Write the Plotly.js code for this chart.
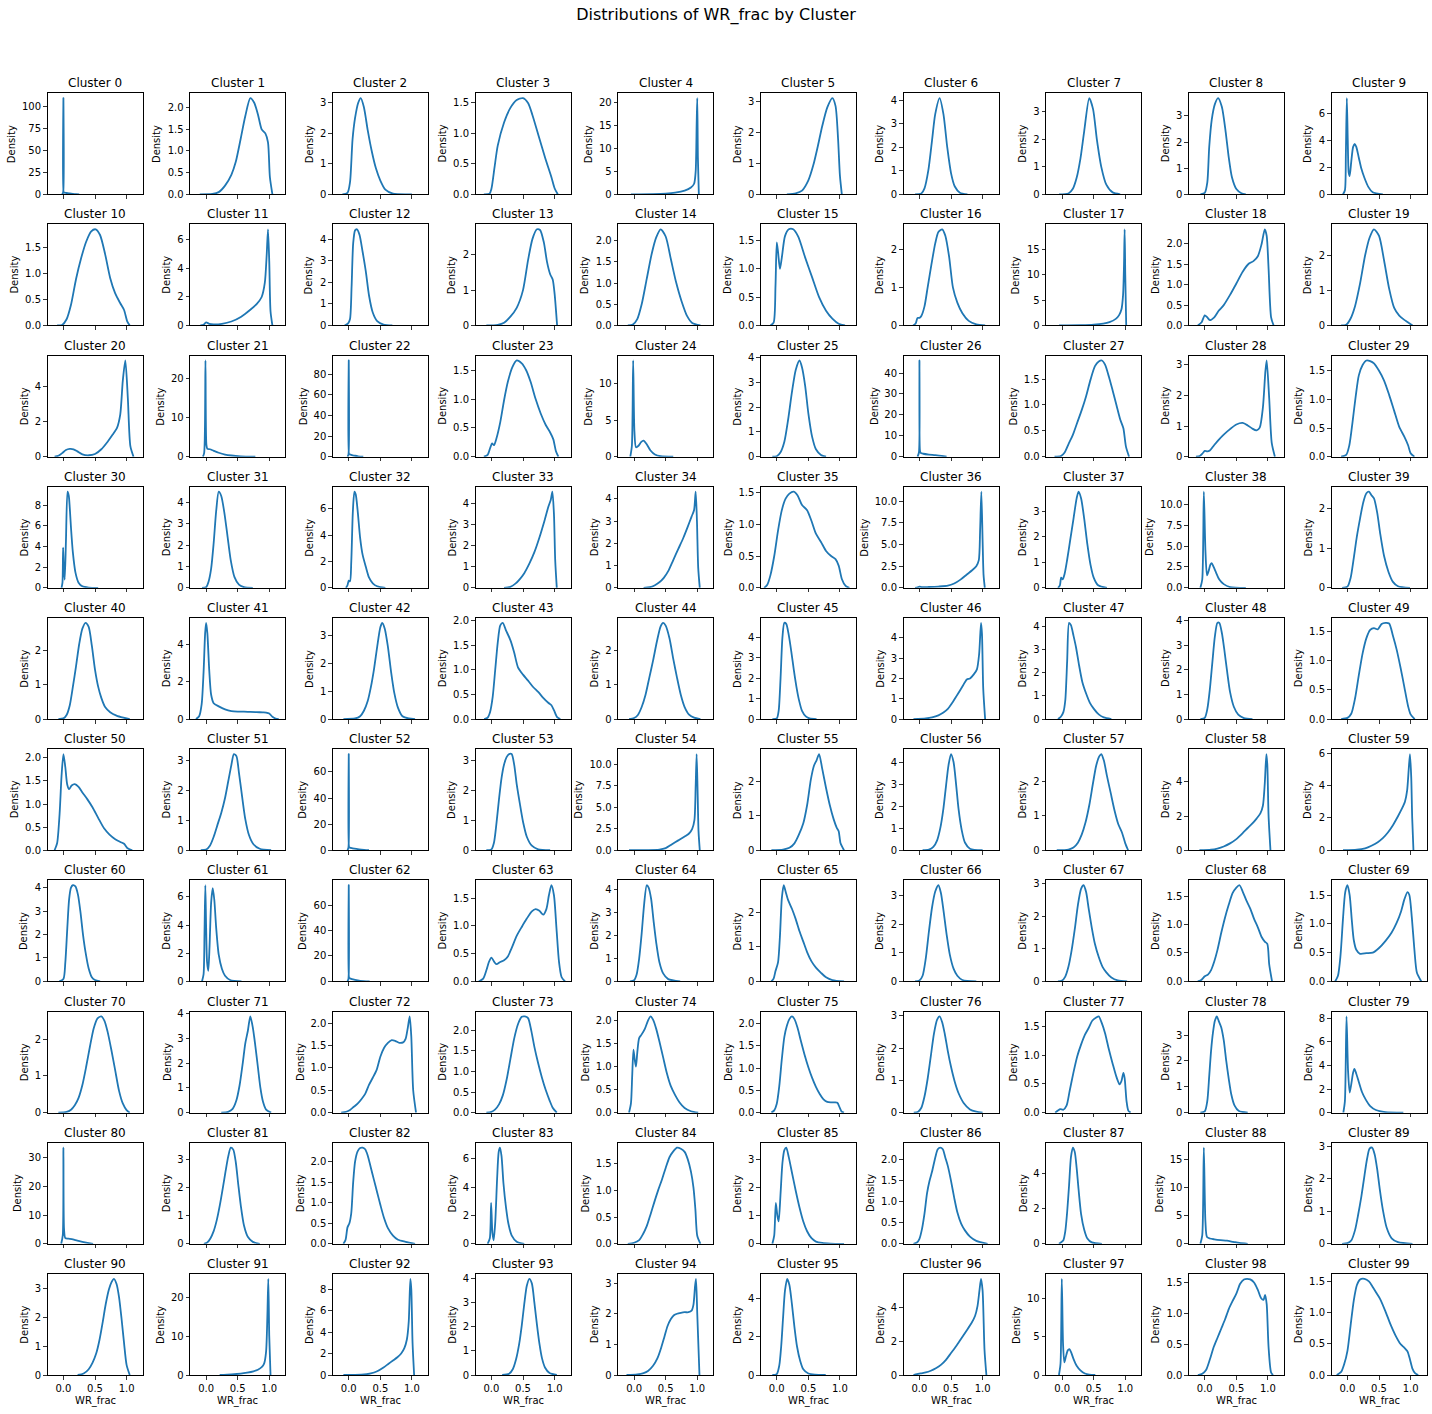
<!DOCTYPE html>
<html><head><meta charset="utf-8">
<script src="https://cdn.plot.ly/plotly-3.0.1.min.js"></script>
<style>html,body{margin:0;padding:0;background:#fff}</style>
</head><body><div id="chart" style="width:1432px;height:1414px"></div>
<script>
// ---------------- data ----------------
const clusterNames = Array.from({length: 100}, (_, i) => 'Cluster ' + i);
const xTickVals = [0, 0.5, 1.0];
const xTickText = ['0.0', '0.5', '1.0'];
const xLabel = 'WR_frac';
const yLabel = 'Density';
const chartTitle = 'Distributions of WR_frac by Cluster';

const kdeX = [
/*0*/[-0.02,-0.005,0,0.005,0.015,0.05,0.1,0.15,0.2,0.25],
/*1*/[-0.1,0.1,0.2,0.3,0.4,0.47,0.55,0.62,0.7,0.76,0.82,0.88,0.94,0.98,1.01,1.05],
/*2*/[-0.1,-0.02,0.02,0.06,0.1,0.15,0.19,0.24,0.3,0.36,0.43,0.5,0.58,0.7,1.0],
/*3*/[-0.12,-0.03,0,0.05,0.1,0.2,0.3,0.4,0.5,0.58,0.65,0.75,0.85,0.95,1.0,1.05],
/*4*/[-0.05,0.3,0.5,0.65,0.8,0.9,0.95,0.975,0.99,1.0,1.01,1.025],
/*5*/[0.16,0.3,0.4,0.5,0.58,0.65,0.72,0.8,0.88,0.93,0.97,1.0,1.03],
/*6*/[-0.07,0.03,0.08,0.14,0.2,0.25,0.32,0.38,0.44,0.5,0.56,0.64,0.76],
/*7*/[-0.05,0.1,0.17,0.23,0.29,0.35,0.43,0.49,0.55,0.62,0.7,0.8,0.92],
/*8*/[-0.07,0,0.04,0.07,0.11,0.16,0.21,0.27,0.33,0.38,0.43,0.5,0.58,0.65],
/*9*/[-0.07,-0.04,-0.025,-0.01,0.005,0.02,0.035,0.06,0.09,0.115,0.14,0.18,0.22,0.27,0.33,0.4,0.56],
/*10*/[-0.1,-0.02,0.05,0.12,0.2,0.28,0.36,0.44,0.51,0.58,0.66,0.74,0.82,0.9,0.96,1.01,1.05],
/*11*/[-0.09,-0.04,0,0.05,0.12,0.25,0.4,0.55,0.7,0.8,0.88,0.93,0.96,0.98,1.0,1.02,1.05],
/*12*/[-0.065,-0.01,0.02,0.045,0.07,0.1,0.13,0.17,0.22,0.27,0.32,0.38,0.45,0.55,0.69],
/*13*/[-0.08,0.1,0.2,0.3,0.4,0.5,0.58,0.65,0.72,0.77,0.83,0.88,0.93,0.97,1.0,1.04],
/*14*/[-0.1,-0.02,0.05,0.12,0.2,0.28,0.35,0.42,0.5,0.58,0.66,0.75,0.84,0.92,1.05],
/*15*/[-0.1,-0.05,-0.02,0,0.02,0.05,0.08,0.13,0.19,0.26,0.34,0.45,0.56,0.67,0.78,0.88,0.98,1.08],
/*16*/[-0.1,-0.06,-0.03,0,0.03,0.08,0.13,0.19,0.25,0.3,0.36,0.41,0.47,0.53,0.6,0.68,0.78,0.9,1.04],
/*17*/[-0.05,0.3,0.5,0.65,0.75,0.85,0.9,0.94,0.965,0.98,0.99,1.0,1.015],
/*18*/[-0.11,-0.05,0,0.04,0.08,0.15,0.22,0.3,0.4,0.5,0.6,0.7,0.77,0.84,0.9,0.95,0.98,1.01,1.05,1.09],
/*19*/[-0.1,-0.02,0.05,0.12,0.2,0.28,0.35,0.42,0.5,0.58,0.66,0.74,0.82,0.9,0.95,1.03],
/*20*/[-0.14,-0.08,-0.02,0.04,0.1,0.16,0.22,0.3,0.4,0.5,0.6,0.7,0.78,0.85,0.9,0.94,0.98,1.02,1.06,1.11],
/*21*/[-0.05,-0.03,-0.01,0.005,0.02,0.06,0.12,0.2,0.3,0.4,0.55,0.78],
/*22*/[-0.02,-0.005,0,0.005,0.015,0.05,0.1,0.15,0.23],
/*23*/[-0.12,-0.06,-0.02,0.01,0.04,0.08,0.14,0.2,0.26,0.33,0.4,0.48,0.55,0.62,0.7,0.78,0.86,0.93,0.98,1.02,1.06],
/*24*/[-0.06,-0.035,-0.015,0.005,0.03,0.07,0.11,0.15,0.2,0.26,0.33,0.42,0.62],
/*25*/[-0.07,0,0.06,0.12,0.18,0.24,0.3,0.36,0.4,0.45,0.5,0.56,0.62,0.7,0.78],
/*26*/[-0.03,-0.008,0,0.008,0.02,0.06,0.15,0.25,0.35,0.43],
/*27*/[-0.12,-0.02,0.04,0.1,0.17,0.24,0.31,0.38,0.45,0.52,0.58,0.63,0.68,0.74,0.8,0.86,0.92,0.97,1.01,1.06],
/*28*/[-0.14,-0.08,-0.03,0,0.04,0.08,0.15,0.22,0.3,0.4,0.5,0.6,0.68,0.75,0.82,0.87,0.92,0.96,0.98,1.02,1.06,1.11],
/*29*/[-0.1,-0.02,0.03,0.08,0.13,0.18,0.24,0.3,0.36,0.42,0.5,0.58,0.66,0.74,0.82,0.9,0.96,1.0,1.06],
/*30*/[-0.03,-0.015,-0.005,0.005,0.02,0.04,0.065,0.085,0.1,0.12,0.15,0.19,0.24,0.3,0.4,0.55],
/*31*/[-0.065,0,0.04,0.08,0.12,0.16,0.2,0.24,0.29,0.34,0.39,0.45,0.52,0.6,0.74],
/*32*/[-0.045,-0.02,0,0.02,0.04,0.065,0.09,0.11,0.14,0.18,0.22,0.27,0.32,0.38,0.45,0.58],
/*33*/[0.2,0.3,0.38,0.45,0.52,0.6,0.68,0.76,0.84,0.9,0.94,0.965,0.99,1.01,1.035],
/*34*/[0.15,0.25,0.33,0.4,0.47,0.54,0.62,0.7,0.78,0.85,0.91,0.95,0.975,0.995,1.015,1.04],
/*35*/[-0.2,-0.15,-0.1,-0.04,0.02,0.08,0.14,0.2,0.27,0.33,0.4,0.48,0.55,0.62,0.7,0.78,0.86,0.93,0.98,1.03,1.09,1.15],
/*36*/[-0.07,-0.03,0,0.04,0.15,0.3,0.45,0.55,0.65,0.75,0.83,0.9,0.94,0.96,0.98,1.0,1.015,1.035],
/*37*/[-0.065,-0.035,-0.015,0.01,0.04,0.08,0.13,0.18,0.23,0.26,0.3,0.35,0.4,0.45,0.5,0.57,0.71],
/*38*/[-0.07,-0.04,-0.015,0.01,0.035,0.06,0.09,0.11,0.14,0.18,0.23,0.3,0.4,0.65],
/*39*/[-0.085,0,0.05,0.1,0.15,0.2,0.25,0.3,0.34,0.38,0.42,0.47,0.52,0.58,0.65,0.72,0.8,0.99],
/*40*/[-0.08,0,0.05,0.1,0.15,0.2,0.25,0.3,0.35,0.4,0.45,0.5,0.55,0.6,0.66,0.74,0.84,0.95,1.05],
/*41*/[-0.16,-0.11,-0.07,-0.04,-0.015,0,0.02,0.05,0.08,0.12,0.2,0.3,0.4,0.5,0.6,0.7,0.8,0.9,0.95,1.0,1.05,1.1,1.15],
/*42*/[-0.085,0.1,0.18,0.24,0.3,0.35,0.4,0.45,0.5,0.53,0.57,0.62,0.67,0.72,0.78,0.85,0.95,1.05],
/*43*/[-0.115,-0.06,-0.02,0.02,0.06,0.1,0.14,0.18,0.23,0.3,0.36,0.42,0.5,0.58,0.66,0.74,0.82,0.9,0.95,0.99,1.04,1.09],
/*44*/[-0.08,0,0.06,0.12,0.18,0.24,0.3,0.36,0.42,0.46,0.5,0.56,0.62,0.68,0.74,0.8,0.87,0.95,1.05],
/*45*/[-0.07,0,0.03,0.06,0.09,0.12,0.15,0.19,0.23,0.27,0.31,0.35,0.4,0.46,0.52,0.63],
/*46*/[-0.095,0.1,0.2,0.3,0.38,0.45,0.52,0.6,0.68,0.75,0.8,0.86,0.91,0.945,0.975,0.99,1.01,1.04],
/*47*/[-0.065,-0.02,0.02,0.05,0.08,0.11,0.14,0.18,0.22,0.27,0.32,0.38,0.44,0.5,0.58,0.66,0.78],
/*48*/[-0.07,0,0.04,0.08,0.12,0.16,0.2,0.23,0.27,0.31,0.35,0.4,0.46,0.53,0.62,0.755],
/*49*/[-0.1,0,0.06,0.12,0.18,0.24,0.3,0.36,0.42,0.48,0.54,0.6,0.66,0.72,0.78,0.84,0.9,0.96,1.0,1.065],
/*50*/[-0.14,-0.1,-0.06,-0.03,0,0.03,0.06,0.09,0.13,0.18,0.24,0.3,0.38,0.46,0.55,0.64,0.73,0.82,0.9,0.96,1.01,1.09],
/*51*/[-0.085,0,0.06,0.12,0.18,0.24,0.3,0.35,0.4,0.44,0.48,0.52,0.57,0.62,0.68,0.75,0.85,1.03],
/*52*/[-0.02,-0.005,0,0.005,0.015,0.06,0.12,0.2,0.32],
/*53*/[-0.08,0,0.04,0.08,0.12,0.16,0.2,0.24,0.28,0.32,0.36,0.4,0.45,0.5,0.56,0.64,0.74,0.93],
/*54*/[-0.08,0.2,0.4,0.5,0.6,0.7,0.8,0.87,0.92,0.955,0.975,0.99,1.005,1.02,1.04],
/*55*/[-0.085,0.1,0.2,0.28,0.35,0.42,0.48,0.54,0.59,0.63,0.67,0.72,0.78,0.84,0.9,0.95,0.98,1.01,1.065],
/*56*/[0.05,0.15,0.22,0.28,0.33,0.38,0.42,0.46,0.5,0.54,0.58,0.62,0.67,0.72,0.8,1.0],
/*57*/[-0.085,0.1,0.18,0.25,0.31,0.37,0.43,0.49,0.54,0.59,0.62,0.66,0.71,0.77,0.83,0.89,0.95,1.0,1.045],
/*58*/[-0.085,0.1,0.2,0.3,0.4,0.5,0.6,0.68,0.75,0.82,0.88,0.92,0.95,0.975,0.99,1.01,1.04],
/*59*/[-0.07,0.15,0.28,0.38,0.48,0.56,0.64,0.72,0.8,0.86,0.91,0.945,0.97,0.99,1.01,1.025,1.045],
/*60*/[-0.065,0,0.03,0.06,0.09,0.12,0.15,0.19,0.23,0.27,0.31,0.35,0.4,0.45,0.5,0.58],
/*61*/[-0.065,-0.04,-0.025,-0.012,0,0.015,0.035,0.055,0.08,0.105,0.13,0.16,0.2,0.25,0.3,0.38,0.56],
/*62*/[-0.02,-0.005,0,0.005,0.015,0.05,0.1,0.18,0.33],
/*63*/[-0.2,-0.13,-0.08,-0.04,0,0.04,0.08,0.14,0.2,0.26,0.32,0.4,0.48,0.56,0.64,0.7,0.76,0.82,0.87,0.91,0.95,0.99,1.03,1.07,1.11,1.165],
/*64*/[-0.065,0,0.04,0.08,0.12,0.16,0.2,0.23,0.27,0.31,0.35,0.4,0.46,0.54,0.73],
/*65*/[-0.085,-0.05,-0.02,0.02,0.05,0.08,0.11,0.14,0.18,0.24,0.3,0.36,0.42,0.48,0.55,0.62,0.7,0.78,0.88,1.065],
/*66*/[-0.07,0,0.05,0.1,0.15,0.2,0.25,0.3,0.34,0.38,0.43,0.48,0.54,0.6,0.68,0.9],
/*67*/[-0.065,0,0.05,0.1,0.15,0.2,0.25,0.3,0.34,0.38,0.42,0.47,0.52,0.58,0.64,0.7,0.78,0.88,1.03],
/*68*/[-0.11,-0.05,0,0.05,0.1,0.15,0.2,0.26,0.32,0.38,0.44,0.5,0.55,0.6,0.66,0.72,0.78,0.84,0.9,0.95,0.99,1.02,1.065],
/*69*/[-0.195,-0.15,-0.11,-0.07,-0.035,0,0.035,0.07,0.1,0.14,0.2,0.3,0.4,0.5,0.6,0.7,0.78,0.85,0.9,0.95,0.98,1.02,1.06,1.1,1.17],
/*70*/[-0.08,0.05,0.12,0.18,0.24,0.3,0.36,0.42,0.48,0.54,0.6,0.65,0.7,0.76,0.82,0.88,0.94,1.0,1.05],
/*71*/[0.24,0.35,0.42,0.48,0.53,0.58,0.62,0.66,0.7,0.74,0.78,0.82,0.86,0.9,0.95,1.03],
/*72*/[-0.12,-0.04,0.02,0.08,0.14,0.2,0.26,0.32,0.38,0.44,0.5,0.56,0.62,0.68,0.74,0.8,0.86,0.9,0.935,0.965,0.99,1.02,1.065],
/*73*/[-0.08,0,0.06,0.12,0.18,0.24,0.3,0.36,0.42,0.48,0.53,0.58,0.63,0.68,0.74,0.8,0.86,0.92,0.97,1.035],
/*74*/[-0.08,-0.05,-0.03,-0.01,0.01,0.03,0.05,0.08,0.12,0.17,0.22,0.26,0.3,0.35,0.4,0.46,0.52,0.58,0.65,0.72,0.8,0.9,1.015],
/*75*/[-0.085,-0.04,0,0.04,0.08,0.12,0.16,0.2,0.24,0.28,0.33,0.38,0.44,0.5,0.56,0.62,0.68,0.74,0.8,0.86,0.92,0.96,1.0,1.03,1.065],
/*76*/[-0.09,-0.02,0.03,0.08,0.13,0.18,0.23,0.28,0.32,0.36,0.4,0.45,0.5,0.56,0.62,0.7,0.8,0.9,1.0],
/*77*/[-0.11,-0.06,-0.03,0.02,0.07,0.12,0.18,0.24,0.3,0.36,0.42,0.48,0.54,0.58,0.63,0.68,0.74,0.8,0.86,0.91,0.94,0.97,0.99,1.02,1.05,1.085],
/*78*/[-0.07,0,0.04,0.07,0.1,0.13,0.16,0.19,0.22,0.26,0.3,0.34,0.38,0.42,0.47,0.54,0.68],
/*79*/[-0.065,-0.04,-0.015,0.01,0.035,0.06,0.09,0.11,0.14,0.18,0.23,0.29,0.36,0.45,0.6,0.885],
/*80*/[-0.035,-0.01,0,0.01,0.03,0.08,0.15,0.22,0.3,0.38,0.47],
/*81*/[-0.035,0.02,0.07,0.12,0.17,0.22,0.27,0.31,0.35,0.39,0.43,0.47,0.51,0.55,0.6,0.66,0.74,0.85],
/*82*/[-0.085,-0.05,-0.02,0.01,0.04,0.07,0.1,0.14,0.18,0.22,0.26,0.3,0.35,0.4,0.45,0.5,0.56,0.62,0.7,0.78,0.9,1.05],
/*83*/[-0.06,-0.025,-0.005,0.015,0.035,0.06,0.09,0.115,0.135,0.16,0.19,0.23,0.27,0.32,0.4,0.52],
/*84*/[-0.1,0,0.08,0.14,0.2,0.26,0.32,0.38,0.44,0.5,0.56,0.62,0.68,0.74,0.8,0.85,0.9,0.94,0.97,1.0,1.05],
/*85*/[-0.07,-0.04,-0.015,0.01,0.03,0.06,0.09,0.12,0.15,0.19,0.24,0.3,0.36,0.42,0.48,0.55,0.62,0.72,0.85,1.065],
/*86*/[-0.095,-0.04,0,0.04,0.08,0.12,0.16,0.2,0.25,0.29,0.33,0.37,0.41,0.45,0.5,0.55,0.6,0.66,0.72,0.8,0.9,1.08],
/*87*/[-0.05,-0.01,0.02,0.05,0.08,0.11,0.14,0.17,0.2,0.23,0.26,0.3,0.35,0.4,0.47,0.63],
/*88*/[-0.07,-0.04,-0.015,0.01,0.035,0.08,0.15,0.25,0.35,0.45,0.55,0.68],
/*89*/[-0.085,0,0.06,0.12,0.17,0.22,0.27,0.31,0.35,0.39,0.43,0.47,0.51,0.56,0.62,0.7,0.8,1.03],
/*90*/[0.225,0.32,0.4,0.46,0.52,0.57,0.62,0.67,0.72,0.76,0.8,0.84,0.88,0.92,0.96,1.0,1.05],
/*91*/[0.215,0.4,0.55,0.65,0.75,0.82,0.88,0.92,0.95,0.97,0.985,1.0,1.02],
/*92*/[-0.085,0.2,0.35,0.45,0.55,0.63,0.7,0.77,0.83,0.88,0.92,0.95,0.975,0.99,1.01,1.035],
/*93*/[0.17,0.28,0.34,0.39,0.44,0.48,0.52,0.56,0.6,0.64,0.68,0.72,0.76,0.8,0.85,0.92,1.035],
/*94*/[-0.12,0.05,0.15,0.22,0.3,0.37,0.43,0.48,0.53,0.58,0.63,0.68,0.74,0.8,0.86,0.91,0.94,0.965,0.98,1.0,1.035],
/*95*/[-0.07,0,0.04,0.07,0.1,0.13,0.165,0.2,0.24,0.28,0.32,0.37,0.42,0.5,0.6,0.775],
/*96*/[-0.095,-0.04,0.02,0.1,0.18,0.26,0.34,0.42,0.5,0.58,0.66,0.74,0.82,0.88,0.92,0.95,0.975,1.0,1.03,1.06],
/*97*/[-0.05,-0.025,-0.005,0.015,0.035,0.06,0.09,0.115,0.14,0.18,0.23,0.29,0.36,0.43,0.525],
/*98*/[-0.11,-0.04,0.02,0.08,0.14,0.2,0.26,0.32,0.38,0.44,0.5,0.56,0.62,0.67,0.72,0.78,0.84,0.89,0.93,0.955,0.98,1.01,1.05,1.08],
/*99*/[-0.17,-0.1,-0.05,0,0.05,0.1,0.15,0.2,0.27,0.34,0.4,0.46,0.52,0.6,0.68,0.76,0.84,0.9,0.95,0.99,1.03,1.07,1.12]
];

const kdeY = [
/*0*/[0,2,110,2.2,1.8,1.5,1.0,0.6,0.25,0],
/*1*/[0,0.01,0.05,0.2,0.45,0.75,1.3,1.8,2.22,2.12,1.85,1.5,1.4,1.2,0.4,0],
/*2*/[0,0.05,0.4,1.8,2.5,3.0,3.15,2.85,2.1,1.45,0.85,0.45,0.15,0.02,0],
/*3*/[0,0.01,0.09,0.45,0.8,1.18,1.42,1.55,1.58,1.5,1.3,0.95,0.6,0.28,0.1,0],
/*4*/[0,0.05,0.15,0.35,0.8,1.5,2.3,5,15,21,8,0],
/*5*/[0,0.03,0.12,0.45,0.95,1.55,2.2,2.8,3.1,2.85,1.8,0.6,0],
/*6*/[0,0.03,0.25,1.0,2.3,3.4,4.08,3.4,2.0,0.9,0.33,0.07,0],
/*7*/[0,0.03,0.2,0.6,1.3,2.3,3.5,3.1,2.0,1.0,0.35,0.07,0],
/*8*/[0,0.05,0.45,1.8,2.85,3.45,3.68,3.35,2.4,1.4,0.65,0.2,0.04,0],
/*9*/[0,0.3,3.0,7.1,4.0,1.6,1.35,2.4,3.5,3.72,3.5,2.7,1.9,1.2,0.55,0.15,0],
/*10*/[0,0.01,0.12,0.4,0.9,1.3,1.62,1.82,1.86,1.75,1.38,0.92,0.62,0.43,0.3,0.08,0],
/*11*/[0,0.05,0.22,0.12,0.08,0.12,0.28,0.6,1.1,1.5,2.0,3.0,5.0,6.75,4.5,1.0,0],
/*12*/[0,0.1,0.3,1.8,3.8,4.4,4.45,4.2,3.4,2.5,1.4,0.6,0.2,0.04,0],
/*13*/[0,0.02,0.08,0.25,0.5,1.0,1.85,2.45,2.72,2.7,2.35,1.8,1.45,1.3,0.9,0],
/*14*/[0,0.02,0.15,0.5,1.1,1.7,2.08,2.27,2.1,1.58,1.05,0.58,0.22,0.06,0],
/*15*/[0,0.05,0.7,1.47,1.3,1.0,1.2,1.58,1.7,1.7,1.57,1.2,0.85,0.5,0.26,0.12,0.03,0],
/*16*/[0,0.05,0.2,0.2,0.25,0.5,1.0,1.6,2.15,2.45,2.52,2.35,1.8,1.0,0.6,0.32,0.12,0.03,0],
/*17*/[0,0.05,0.15,0.35,0.65,1.3,2.0,3.2,6,12,19.0,10,0],
/*18*/[0,0.08,0.25,0.2,0.13,0.2,0.36,0.5,0.75,1.03,1.32,1.52,1.58,1.7,2.0,2.36,2.2,1.4,0.2,0],
/*19*/[0,0.02,0.2,0.55,1.2,2.0,2.5,2.74,2.55,1.85,1.05,0.5,0.28,0.16,0.1,0],
/*20*/[0,0.05,0.2,0.38,0.44,0.42,0.3,0.13,0.08,0.15,0.42,0.85,1.25,1.65,2.4,4.3,5.45,3.3,0.6,0],
/*21*/[0,1,24.6,3,2,1.9,1.5,1.0,0.55,0.3,0.1,0],
/*22*/[0,2,93.5,2.5,2.2,1.6,0.9,0.4,0],
/*23*/[0,0.03,0.15,0.23,0.2,0.32,0.6,0.98,1.3,1.55,1.67,1.62,1.5,1.3,1.0,0.75,0.55,0.42,0.3,0.1,0],
/*24*/[0,1.5,13.2,3.5,1.3,1.5,2.0,2.2,1.7,0.85,0.3,0.06,0],
/*25*/[0,0.02,0.18,0.6,1.5,2.6,3.5,3.88,3.6,2.85,1.75,0.8,0.3,0.07,0],
/*26*/[0,2,46,3,1.8,1.4,1.0,0.75,0.4,0],
/*27*/[0,0.01,0.08,0.24,0.42,0.66,0.9,1.17,1.49,1.75,1.84,1.86,1.78,1.55,1.28,1.0,0.72,0.55,0.2,0],
/*28*/[0,0.02,0.12,0.19,0.17,0.2,0.38,0.55,0.72,0.9,1.05,1.1,1.02,0.92,0.86,0.95,1.6,2.8,3.14,1.9,0.45,0],
/*29*/[0,0.03,0.2,0.6,1.05,1.42,1.6,1.68,1.67,1.63,1.5,1.33,1.08,0.8,0.52,0.35,0.2,0.06,0],
/*30*/[0,0.5,3.9,2.0,0.8,4.5,9.3,8.9,7.8,5.8,3.4,1.5,0.5,0.15,0.03,0],
/*31*/[0,0.03,0.3,0.9,2.1,3.6,4.5,4.3,3.5,2.4,1.3,0.5,0.15,0.03,0],
/*32*/[0,0.2,0.55,0.5,2.0,5.8,7.3,7.1,5.9,3.8,2.5,1.6,0.8,0.35,0.12,0],
/*33*/[0,0.05,0.2,0.42,0.7,1.15,1.7,2.4,3.2,3.85,4.2,4.58,3.5,1.3,0],
/*34*/[0,0.03,0.12,0.25,0.45,0.75,1.25,1.75,2.25,2.75,3.2,3.5,4.32,3.0,0.9,0],
/*35*/[0,0.05,0.2,0.5,0.9,1.22,1.4,1.48,1.51,1.45,1.3,1.22,1.05,0.85,0.72,0.58,0.5,0.45,0.35,0.14,0.03,0],
/*36*/[0,0.05,0.15,0.08,0.1,0.15,0.25,0.5,0.95,1.55,2.0,2.5,3.2,6.5,11.1,5.5,1.5,0],
/*37*/[0,0.1,0.4,0.33,0.55,1.1,1.9,2.7,3.5,3.76,3.5,2.7,1.7,0.9,0.4,0.1,0],
/*38*/[0,1.0,11.5,4.5,1.5,2.0,2.8,2.95,2.5,1.8,1.0,0.45,0.1,0],
/*39*/[0,0.03,0.25,0.75,1.3,1.75,2.15,2.38,2.42,2.33,2.25,1.9,1.35,0.8,0.4,0.15,0.04,0],
/*40*/[0,0.02,0.12,0.4,0.95,1.55,2.2,2.65,2.82,2.7,2.15,1.45,0.95,0.62,0.35,0.2,0.1,0.04,0],
/*41*/[0,0.15,0.8,2.5,4.6,5.15,4.6,2.6,1.3,0.85,0.68,0.52,0.43,0.4,0.4,0.38,0.37,0.36,0.35,0.3,0.12,0.03,0],
/*42*/[0,0.02,0.1,0.3,0.65,1.15,1.8,2.6,3.3,3.46,3.25,2.6,1.7,0.95,0.4,0.1,0.02,0],
/*43*/[0,0.03,0.15,0.45,1.0,1.55,1.9,1.95,1.8,1.6,1.35,1.05,0.9,0.78,0.65,0.55,0.43,0.33,0.28,0.18,0.04,0],
/*44*/[0,0.03,0.12,0.35,0.7,1.2,1.7,2.25,2.7,2.8,2.72,2.35,1.75,1.2,0.7,0.35,0.13,0.04,0],
/*45*/[0,0.03,0.4,2.0,4.0,4.7,4.65,4.1,3.3,2.4,1.6,0.95,0.4,0.13,0.03,0],
/*46*/[0,0.03,0.08,0.18,0.32,0.5,0.8,1.2,1.6,1.95,2.0,2.2,2.45,3.2,4.74,4.2,1.5,0],
/*47*/[0,0.1,0.3,0.8,2.5,4.15,4.05,3.6,3.1,2.3,1.6,1.1,0.7,0.45,0.2,0.07,0],
/*48*/[0,0.05,0.4,1.2,2.3,3.35,3.9,3.9,3.5,2.8,2.0,1.1,0.5,0.18,0.04,0],
/*49*/[0,0.02,0.09,0.35,0.75,1.12,1.38,1.52,1.55,1.53,1.62,1.64,1.63,1.42,1.18,0.88,0.55,0.22,0.08,0],
/*50*/[0,0.15,0.8,1.6,2.08,1.8,1.42,1.32,1.4,1.43,1.37,1.25,1.1,0.93,0.7,0.48,0.34,0.24,0.18,0.14,0.05,0],
/*51*/[0,0.02,0.15,0.45,0.85,1.25,1.75,2.3,2.85,3.22,3.15,2.6,1.8,1.05,0.5,0.2,0.05,0],
/*52*/[0,2,73.7,2.5,2.0,1.5,1.0,0.5,0],
/*53*/[0,0.03,0.25,0.9,1.7,2.4,2.85,3.1,3.2,3.2,2.85,2.2,1.55,0.95,0.45,0.15,0.03,0],
/*54*/[0,0.02,0.08,0.25,0.7,1.15,1.6,1.95,2.5,3.5,7.5,11.2,7,2.2,0],
/*55*/[0,0.02,0.07,0.2,0.45,0.78,1.3,2.05,2.45,2.6,2.78,2.35,1.8,1.3,0.9,0.65,0.55,0.2,0],
/*56*/[0,0.03,0.15,0.45,1.0,1.9,2.9,3.85,4.36,4.0,3.0,1.85,0.9,0.35,0.07,0],
/*57*/[0,0.02,0.08,0.22,0.45,0.8,1.3,1.95,2.45,2.72,2.78,2.6,2.15,1.65,1.15,0.75,0.5,0.2,0],
/*58*/[0,0.03,0.1,0.22,0.4,0.65,1.0,1.3,1.55,1.85,2.15,2.6,3.9,5.62,5.0,2.0,0],
/*59*/[0,0.03,0.12,0.28,0.5,0.75,1.1,1.55,2.1,2.55,3.0,3.7,5.0,5.94,4.5,2.0,0],
/*60*/[0,0.1,0.8,2.2,3.5,4.0,4.1,4.05,3.7,2.95,2.0,1.25,0.55,0.18,0.06,0],
/*61*/[0,0.5,3.5,6.83,4.0,1.4,0.75,2.5,5.6,6.62,5.8,3.8,1.9,0.9,0.4,0.1,0],
/*62*/[0,2,75.5,3.0,2.5,1.8,1.2,0.5,0],
/*63*/[0,0.05,0.2,0.35,0.43,0.36,0.31,0.35,0.38,0.45,0.6,0.82,0.98,1.13,1.26,1.3,1.27,1.2,1.3,1.55,1.73,1.55,0.95,0.35,0.08,0],
/*64*/[0,0.05,0.3,1.0,2.1,3.4,4.2,4.1,3.6,2.6,1.7,0.85,0.35,0.1,0],
/*65*/[0,0.08,0.3,0.55,1.3,2.4,2.78,2.6,2.35,2.1,1.8,1.45,1.15,0.85,0.58,0.4,0.25,0.12,0.04,0],
/*66*/[0,0.03,0.2,0.8,1.75,2.6,3.15,3.37,3.1,2.5,1.65,0.95,0.45,0.2,0.05,0],
/*67*/[0,0.03,0.15,0.45,0.95,1.6,2.35,2.85,2.96,2.75,2.25,1.65,1.15,0.75,0.45,0.28,0.12,0.03,0],
/*68*/[0,0.03,0.09,0.12,0.2,0.35,0.55,0.85,1.12,1.35,1.55,1.65,1.69,1.58,1.42,1.28,1.1,0.95,0.78,0.7,0.66,0.3,0],
/*69*/[0,0.1,0.45,1.1,1.55,1.67,1.5,1.05,0.72,0.55,0.48,0.49,0.5,0.58,0.7,0.85,1.02,1.22,1.42,1.55,1.5,1.1,0.55,0.15,0],
/*70*/[0,0.02,0.08,0.2,0.4,0.75,1.25,1.8,2.3,2.57,2.62,2.5,2.2,1.7,1.15,0.6,0.25,0.07,0],
/*71*/[0,0.03,0.15,0.5,1.1,2.0,2.8,3.3,3.9,3.45,2.7,1.85,1.0,0.45,0.12,0],
/*72*/[0,0.02,0.06,0.13,0.2,0.3,0.42,0.62,0.78,0.95,1.25,1.45,1.56,1.62,1.6,1.56,1.57,1.65,1.9,2.15,1.7,0.5,0],
/*73*/[0,0.02,0.08,0.2,0.42,0.8,1.3,1.8,2.15,2.33,2.34,2.3,2.0,1.6,1.2,0.85,0.55,0.3,0.12,0],
/*74*/[0,0.2,0.8,1.37,1.15,1.0,1.3,1.62,1.7,1.82,2.0,2.09,2.02,1.82,1.55,1.2,0.85,0.58,0.38,0.22,0.1,0.03,0],
/*75*/[0,0.05,0.2,0.6,1.2,1.7,1.95,2.1,2.16,2.1,1.9,1.62,1.3,1.02,0.78,0.58,0.42,0.3,0.24,0.23,0.23,0.22,0.1,0.02,0],
/*76*/[0,0.03,0.15,0.5,1.05,1.75,2.45,2.88,2.98,2.8,2.45,1.9,1.42,0.95,0.6,0.3,0.1,0.03,0],
/*77*/[0,0.04,0.06,0.05,0.12,0.38,0.7,0.98,1.18,1.35,1.47,1.6,1.65,1.67,1.55,1.38,1.1,0.85,0.62,0.49,0.55,0.69,0.6,0.2,0.03,0],
/*78*/[0,0.05,0.45,1.4,2.4,3.1,3.55,3.72,3.55,3.3,2.8,2.0,1.3,0.7,0.28,0.06,0],
/*79*/[0,1.0,8.15,3.5,1.7,2.4,3.4,3.7,3.3,2.6,1.75,1.1,0.55,0.22,0.05,0],
/*80*/[0,3,33.4,5,2.0,1.8,1.55,1.1,0.7,0.35,0],
/*81*/[0,0.05,0.2,0.45,0.85,1.4,2.05,2.6,3.1,3.42,3.35,2.9,2.1,1.35,0.65,0.25,0.07,0],
/*82*/[0,0.1,0.4,0.5,0.75,1.5,2.0,2.25,2.33,2.34,2.3,2.15,1.85,1.55,1.25,0.95,0.62,0.38,0.2,0.1,0.05,0],
/*83*/[0,0.4,2.9,0.8,0.25,1.5,4.6,6.5,6.8,6.2,4.3,2.6,1.4,0.6,0.15,0],
/*84*/[0,0.02,0.07,0.18,0.33,0.55,0.78,1.0,1.2,1.42,1.62,1.73,1.8,1.78,1.72,1.58,1.35,1.05,0.65,0.15,0],
/*85*/[0,0.3,1.46,1.0,0.8,1.8,2.9,3.35,3.44,3.1,2.55,1.9,1.3,0.8,0.45,0.2,0.08,0.03,0.01,0],
/*86*/[0,0.03,0.12,0.35,0.72,1.2,1.5,1.72,2.05,2.25,2.29,2.25,2.05,1.85,1.5,1.1,0.75,0.48,0.32,0.17,0.07,0],
/*87*/[0,0.1,0.2,0.7,1.8,3.3,4.9,5.44,5.2,4.3,3.1,1.7,0.8,0.3,0.08,0],
/*88*/[0,1.5,17.1,4,1.2,0.95,0.8,0.65,0.55,0.35,0.15,0],
/*89*/[0,0.02,0.1,0.42,0.9,1.45,2.1,2.6,2.92,2.95,2.75,2.3,1.7,1.05,0.5,0.17,0.05,0],
/*90*/[0,0.05,0.2,0.42,0.75,1.2,1.8,2.45,2.95,3.2,3.32,3.15,2.7,1.95,1.1,0.35,0],
/*91*/[0,0.15,0.35,0.6,0.95,1.35,2.0,3.0,6,15,24.7,10,0],
/*92*/[0,0.03,0.15,0.35,0.7,1.05,1.35,1.65,2.0,2.5,3.3,5.0,8.95,8.0,3.0,0],
/*93*/[0,0.05,0.25,0.65,1.3,2.05,2.95,3.7,3.99,3.8,3.0,2.1,1.3,0.7,0.3,0.08,0],
/*94*/[0,0.02,0.06,0.13,0.3,0.55,0.9,1.25,1.6,1.82,1.95,2.0,2.03,2.05,2.05,2.1,2.3,2.9,3.14,2.0,0],
/*95*/[0,0.05,0.5,1.5,3.0,4.4,5.02,4.7,3.7,2.5,1.5,0.75,0.3,0.08,0.02,0],
/*96*/[0,0.05,0.1,0.15,0.25,0.4,0.6,0.9,1.3,1.7,2.15,2.6,3.05,3.5,4.1,5.0,5.7,5.0,1.5,0],
/*97*/[0,1.5,12.5,4,1.65,2.4,3.2,3.35,3.0,2.1,1.2,0.6,0.2,0.05,0],
/*98*/[0,0.02,0.08,0.25,0.45,0.6,0.75,0.9,1.07,1.2,1.32,1.48,1.55,1.56,1.55,1.5,1.38,1.25,1.22,1.3,1.15,0.45,0.04,0],
/*99*/[0,0.05,0.18,0.39,0.8,1.2,1.45,1.54,1.55,1.51,1.42,1.32,1.22,1.03,0.82,0.64,0.5,0.44,0.38,0.25,0.1,0.03,0]
];

// ---------------- layout geometry (pixels of the 1432x1414 figure) ----------------
const W = 1432, H = 1414;
const LEFT0 = 47.5, COL_PITCH = 142.67, AX_W = 95;
const TOP0 = 93.3, ROW_PITCH = 131.19, AX_H = 101;
const X_RANGE = [-0.252, 1.252];
const FONT = 'DejaVu Sans, Liberation Sans, sans-serif';
const LINE_COLOR = '#1f77b4';

// matplotlib-like MaxNLocator (nbins=5, steps 1,2,2.5,5,10) for the y ticks
function yTicks(vmax) {
  const nbins = 5;
  const raw = vmax / nbins;
  const scale = Math.pow(10, Math.floor(Math.log10(raw)));
  let step = 10 * scale;
  for (const s of [1, 2, 2.5, 5, 10]) {
    if (s * scale >= raw - 1e-12) { step = s * scale; break; }
  }
  let dec = 0;
  while (dec < 4 && Math.abs(Math.round(step * Math.pow(10, dec)) - step * Math.pow(10, dec)) > 1e-9) dec++;
  const vals = [], text = [];
  for (let k = 0; k * step <= vmax + 1e-9; k++) {
    vals.push(k * step);
    text.push((k * step).toFixed(dec));
  }
  return {vals, text};
}
function labelWidth(s) {
  let w = 0;
  for (const ch of s) w += (ch === '.') ? 3.18 : 6.36;
  return w;
}

const traces = [];
const layout = {
  width: W, height: H,
  margin: {l: 0, r: 0, t: 0, b: 0},
  paper_bgcolor: '#fff', plot_bgcolor: '#fff',
  showlegend: false,
  font: {family: FONT, size: 10, color: '#000'},
  title: {text: chartTitle, font: {family: FONT, size: 16, color: '#000'},
          x: 0.5, xanchor: 'center', y: 1 - 14 / H, yanchor: 'middle'},
  annotations: []
};

for (let i = 0; i < 100; i++) {
  const r = Math.floor(i / 10), c = i % 10;
  const sfx = i === 0 ? '' : String(i + 1);
  const left = LEFT0 + c * COL_PITCH;
  const top = TOP0 + r * ROW_PITCH;
  const bottom = top + AX_H;

  traces.push({
    x: kdeX[i], y: kdeY[i], type: 'scatter', mode: 'lines',
    xaxis: 'x' + sfx, yaxis: 'y' + sfx,
    line: {color: LINE_COLOR, width: 1.8, shape: 'spline', smoothing: 0.7},
    hoverinfo: 'skip'
  });

  const ymax = Math.max(...kdeY[i]) * 1.05;
  const yt = yTicks(ymax);

  const common = {
    showgrid: false, zeroline: false, showline: true, mirror: true,
    linecolor: '#000', linewidth: 1,
    ticks: 'outside', ticklen: 3.5, tickwidth: 0.8, tickcolor: '#000',
    tickfont: {family: FONT, size: 10, color: '#000'},
    fixedrange: true
  };
  layout['xaxis' + sfx] = Object.assign({}, common, {
    domain: [left / W, (left + AX_W) / W],
    range: X_RANGE, anchor: 'y' + sfx,
    tickmode: 'array', tickvals: xTickVals, ticktext: xTickText,
    showticklabels: r === 9
  });
  layout['yaxis' + sfx] = Object.assign({}, common, {
    domain: [1 - bottom / H, 1 - top / H],
    range: [0, ymax], anchor: 'x' + sfx,
    tickmode: 'array', tickvals: yt.vals, ticktext: yt.text
  });

  // subplot title
  layout.annotations.push({
    text: clusterNames[i], xref: 'paper', yref: 'paper',
    x: (left + AX_W / 2) / W, y: 1 - (top - 10) / H,
    xanchor: 'center', yanchor: 'middle', showarrow: false,
    font: {family: FONT, size: 12, color: '#000'}
  });
  // y label
  const maxW = Math.max(...yt.text.map(labelWidth));
  layout.annotations.push({
    text: yLabel, xref: 'paper', yref: 'paper',
    x: (left - 7 - maxW - 10) / W, y: 1 - (top + AX_H / 2) / H,
    xanchor: 'center', yanchor: 'middle', textangle: -90, showarrow: false,
    font: {family: FONT, size: 10, color: '#000'}
  });
  // x label on bottom row
  if (r === 9) {
    layout.annotations.push({
      text: xLabel, xref: 'paper', yref: 'paper',
      x: (left + AX_W / 2) / W, y: 1 - (bottom + 26) / H,
      xanchor: 'center', yanchor: 'middle', showarrow: false,
      font: {family: FONT, size: 10, color: '#000'}
    });
  }
}

Plotly.newPlot('chart', traces, layout, {staticPlot: true, displayModeBar: false});
</script>
</body></html>
